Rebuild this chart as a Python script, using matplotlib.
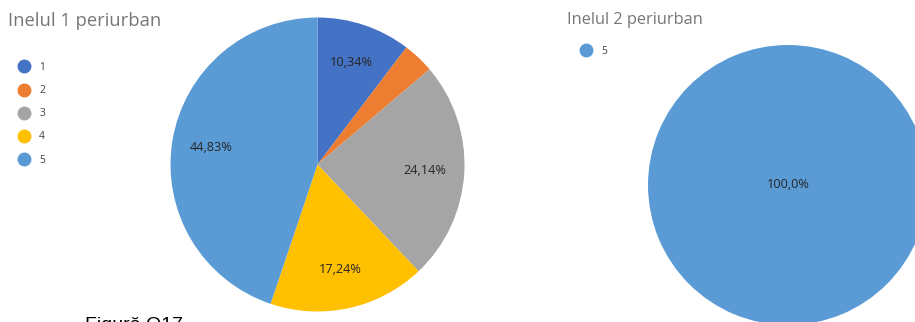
import matplotlib
matplotlib.use("Agg")
import matplotlib.pyplot as plt
from matplotlib.lines import Line2D
import numpy as np

# procente pe categorii (1..5)
categorii = ["1", "2", "3", "4", "5"]
inel1 = [10.34, 3.45, 24.14, 17.24, 44.83]
categorii2 = ["5"]
inel2 = [100.0]
culori = {"1": "#4472C4", "2": "#ED7D31", "3": "#A5A5A5", "4": "#FFC000", "5": "#5B9BD5"}

plt.rcParams["font.family"] = ["Open Sans", "DejaVu Sans"]

W, H = 915, 322
fig = plt.figure(figsize=(W / 100, H / 100), dpi=100)


def ax_px(cx, cy, r):
    # axa patrata centrata pe (cx, cy) in pixeli, y de sus in jos
    return fig.add_axes([(cx - r) / W, (H - cy - r) / H, 2 * r / W, 2 * r / H])


def eticheta(v, zecimale):
    if v < 5:
        return ""
    return f"{v:.{zecimale}f}%".replace(".", ",")


def deseneaza(ax, valori, cats, zecimale, pctd):
    ax.pie(valori, colors=[culori[c] for c in cats], startangle=90,
           counterclock=False, radius=1)
    tot = sum(valori)
    start = 90.0
    for v in valori:
        ang = start - 360 * v / tot / 2
        start -= 360 * v / tot
        txt = eticheta(v, zecimale)
        if len(valori) == 1:
            x, y = 0, 0
        else:
            x, y = pctd * np.cos(np.radians(ang)), pctd * np.sin(np.radians(ang))
        ax.text(x, y, txt, ha="center", va="center", fontsize=9.2, color="#262626")
    ax.set_xlim(-1, 1)
    ax.set_ylim(-1, 1)
    ax.set_aspect("equal")
    ax.axis("off")


ax1 = ax_px(317.5, 164.5, 147)
deseneaza(ax1, inel1, categorii, 2, 0.73)

ax2 = ax_px(788, 185, 140)
deseneaza(ax2, inel2, categorii2, 1, 0.0)

fig.text(8 / W, 1 - 21 / H, "Inelul 1 periurban", fontsize=13.2, color="#767676",
         ha="left", va="center")
fig.text(567 / W, 1 - 20 / H, "Inelul 2 periurban", fontsize=11.8, color="#767676",
         ha="left", va="center")


def legenda(cats, x, y):
    h = [Line2D([], [], marker="o", linestyle="none", markersize=9,
                markerfacecolor=culori[c], markeredgecolor=culori[c]) for c in cats]
    fig.legend(h, cats, loc="upper left", bbox_to_anchor=(x / W, 1 - y / H),
               frameon=False, fontsize=7.4, labelspacing=1.18, handletextpad=0.75,
               borderaxespad=0, borderpad=0, handlelength=1.4, labelcolor="#404040")


legenda(categorii, 17, 62)
legenda(categorii2, 579, 46)

fig.text(85 / W, -8 / H, "Figură Q17", fontsize=14, color="black",
         family="Liberation Sans", ha="left", va="baseline")

fig.savefig("out.png", dpi=100)
